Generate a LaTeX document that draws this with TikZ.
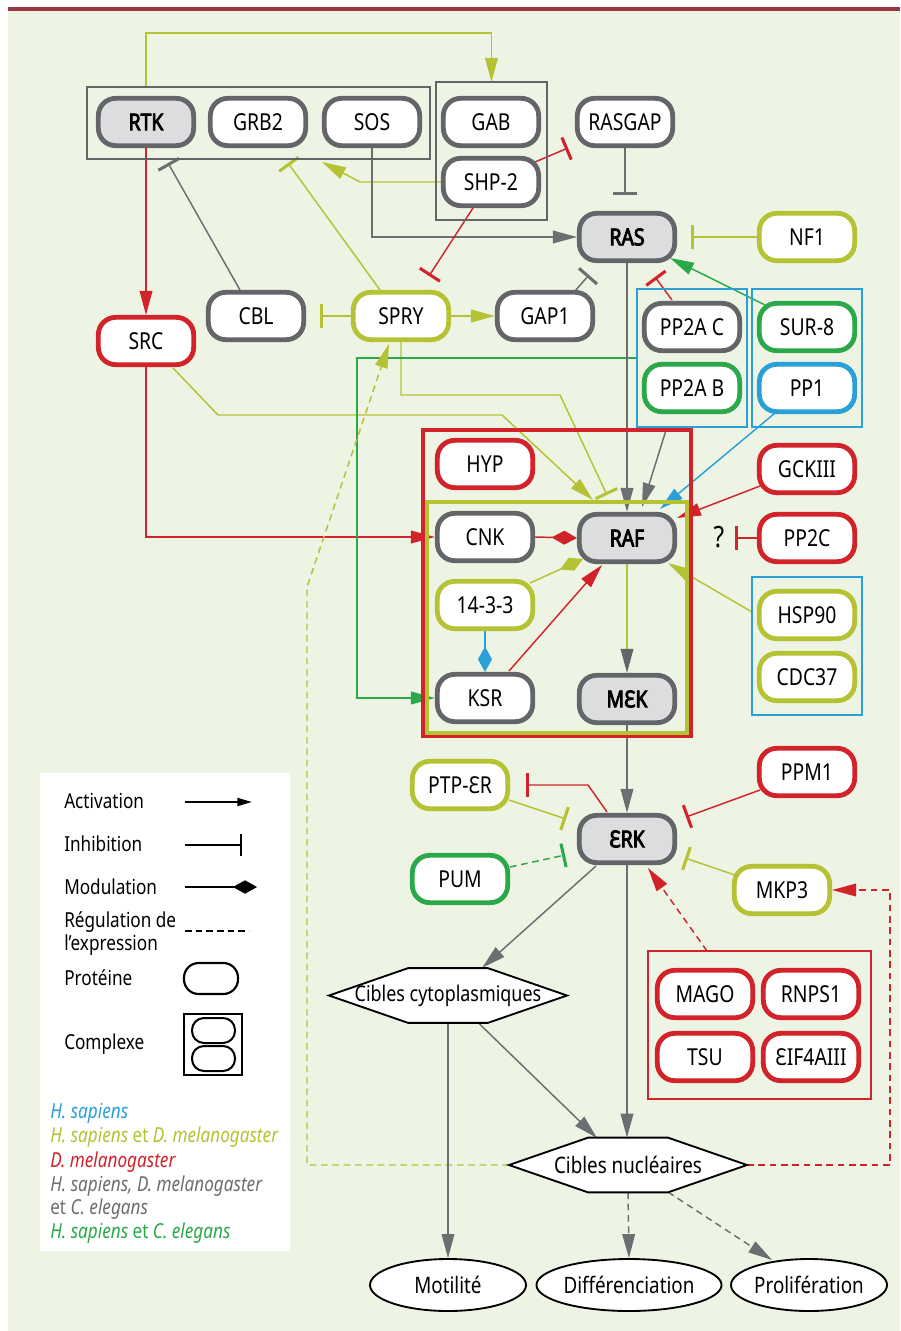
\documentclass[tikz,border=0pt]{standalone}
\usepackage{fontspec}
\setmainfont{Noto Sans}[FakeStretch=0.83]
\newfontfamily\fakeboldfam{Noto Sans}[FakeStretch=0.83,FakeBold=3.5]
\usetikzlibrary{arrows.meta,calc,shapes.geometric,fit}
\definecolor{olv}{RGB}{181,194,52}
\definecolor{rd}{RGB}{210,35,42}
\definecolor{grn}{RGB}{43,168,74}
\definecolor{blu}{RGB}{41,160,216}
\definecolor{gry}{RGB}{100,101,105}
\definecolor{lgry}{RGB}{109,110,113}
\definecolor{gfill}{RGB}{220,221,223}
\definecolor{bgc}{RGB}{238,244,228}
\definecolor{barc}{RGB}{150,55,65}
\newcommand\nodefont{\fontsize{17.5}{20}\selectfont}
\newcommand\legfont{\fontsize{15.5}{18}\selectfont}
\pgfdeclarelayer{back}
\pgfdeclarelayer{edges}
\pgfsetlayers{back,edges,main}
\tikzset{
  prot/.style={draw=gry, line width=3.6pt, fill=white, rounded corners=13pt,
    minimum width=71.5pt, minimum height=35.5pt, inner sep=0pt, font=\nodefont, text=black},
  protb/.style={prot, fill=gfill, font=\nodefont\fakeboldfam},
  cplx/.style={draw, line width=1.9pt, inner sep=0pt, outer sep=0pt},
  conn/.style={line width=1.1pt},
  act/.style={conn, -{Triangle[length=18pt,width=9.5pt]}},
  inh/.style={conn, -{Bar[width=18pt,line width=2.3pt]}},
  modu/.style={conn, -{Diamond[length=19pt,width=10.5pt]}},
  dsh/.style={dash pattern=on 5pt off 3.5pt},
  hexbox/.style={minimum width=178.5pt, minimum height=41pt, inner sep=0pt, outer sep=0pt},
  hexline/.style={draw=black, fill=white, line width=1.4pt, line join=miter},
  endp/.style={ellipse, draw=black, fill=white, line width=1.4pt, minimum width=117pt,
    minimum height=39pt, inner sep=0pt, font=\fontsize{17}{20}\selectfont},
  legtxt/.style={anchor=base west, font=\legfont, inner sep=0pt},
}
\begin{document}
\begin{tikzpicture}[x=0.75pt,y=-0.75pt]
\useasboundingbox (0,0) rectangle (900,1331);
\begin{pgfonlayer}{back}
\fill[white] (0,0) rectangle (900,1331);
\fill[bgc] (8,11) rectangle (900,1331);
\fill[barc] (8,7) rectangle (900,11);
\end{pgfonlayer}

% complexes
\node[cplx, draw=gry, fit={(87,87) (430,159)}] (cx1) {};
\node[cplx, draw=gry, fit={(436,82) (547,220)}] (cx2) {};
\node[cplx, draw=blu, fit={(637,289) (747,427)}] (cxPP2A) {};
\node[cplx, draw=blu, fit={(752,289) (862,427)}] (cxSUR) {};
\node[cplx, draw=rd, line width=2.3pt, fit={(423,430) (691,736)}] (bigred) {};
\node[cplx, draw=olv, line width=2.3pt, fit={(427,502) (687,733)}] (olvbox) {};
\node[cplx, draw=blu, fit={(752,577) (862,715)}] (cxHSP) {};
\node[cplx, draw=rd, fit={(648,951) (871,1099)}] (cxMAGO) {};

% proteins
\node[protb] (RTK) at (146,122) {RTK};
\node[prot] (GRB2) at (258,122) {GRB2};
\node[prot] (SOS) at (372,122) {SOS};
\node[prot] (GAB) at (491,122) {GAB};
\node[prot] (SHP2) at (491,182) {SHP-2};
\node[prot] (RASGAP) at (625,122) {RASGAP};
\node[protb] (RAS) at (627,237) {RAS};
\node[prot, draw=olv] (NF1) at (807,237) {NF1};
\node[prot, draw=rd] (SRC) at (146,341) {SRC};
\node[prot] (CBL) at (256,316) {CBL};
\node[prot, draw=olv] (SPRY) at (401,316) {SPRY};
\node[prot] (GAP1) at (545,316) {GAP1};
\node[prot] (PP2AC) at (692,327) {PP2A C};
\node[prot, draw=grn] (PP2AB) at (692,388) {PP2A B};
\node[prot, draw=grn] (SUR8) at (807,327) {SUR-8};
\node[prot, draw=blu] (PP1) at (807,388) {PP1};
\node[prot, draw=rd] (HYP) at (485,464) {HYP};
\node[prot] (CNK) at (485,537) {CNK};
\node[protb] (RAF) at (627,538) {RAF};
\node[prot, draw=olv] (P1433) at (485,605) {14-3-3};
\node[prot] (KSR) at (485,698) {KSR};
\node[protb] (MEK) at (627,699) {MƐK};
\node[prot, draw=rd] (GCK) at (807,469) {GCKIII};
\node[prot, draw=rd] (PP2C) at (807,538) {PP2C};
\node[prot, draw=olv] (HSP) at (807,615) {HSP90};
\node[prot, draw=olv] (CDC) at (807,677) {CDC37};
\node[prot, draw=olv] (PTP) at (460,785) {PTP-ƐR};
\node[prot, draw=grn] (PUM) at (460,879) {PUM};
\node[protb] (ERK) at (627,839) {ƐRK};
\node[prot, draw=rd] (PPM1) at (807,772) {PPM1};
\node[prot, draw=olv] (MKP3) at (782,890) {MKP3};
\node[prot, draw=rd] (MAGO) at (705,994) {MAGO};
\node[prot, draw=rd] (RNPS) at (811,994) {RNPS1};
\node[prot, draw=rd] (TSU) at (705,1057) {TSU};
\node[prot, draw=rd] (EIF) at (811,1057) {ƐIF4AIII};
\node[font=\fontsize{22}{24}\selectfont, inner sep=0pt] (Q) at (719,537) {?};

% targets
\node[hexbox] (CC) at (448,995.5) {};
\draw[hexline] (CC.west) -- ($(CC.north west)+(79,0)$) -- ($(CC.north east)+(-79,0)$) -- (CC.east)
  -- ($(CC.south east)+(-79,0)$) -- ($(CC.south west)+(79,0)$) -- cycle;
\node[font=\fontsize{16.2}{19}\selectfont] (CCt) at (CC) {Cibles cytoplasmiques};
\node[hexbox] (CN) at (628,1165) {};
\draw[hexline] (CN.west) -- ($(CN.north west)+(79,0)$) -- ($(CN.north east)+(-79,0)$) -- (CN.east)
  -- ($(CN.south east)+(-79,0)$) -- ($(CN.south west)+(79,0)$) -- cycle;
\node[font=\fontsize{17}{20}\selectfont] (CNt) at (CN) {Cibles nucléaires};
\node[endp] (MOT) at (448,1285) {Motilité};
\node[endp] (DIF) at (629,1285) {Différenciation};
\node[endp] (PRO) at (809,1285) {Prolifération};

% connectors
\begin{pgfonlayer}{edges}
\coordinate (t1) at (300,33);
\draw[act, olv] (RTK.center |- cx1.north) |- (t1) -| (cx2.north);
\draw[act, rd] (RTK.south) -- (SRC.north);
\draw[inh, lgry] ($(CBL)+(-16,-26)$) -- ($(RTK)+(22,41)$);
\draw[inh, olv] ($(SPRY)+(-21,-26)$) -- ($(GRB2)+(30,41)$);
\coordinate (c5) at (360,182);
\draw[act, olv] (SHP2.west) -- (c5) -- ($(GRB2)+(64,40)$);
\draw[act, lgry] (SOS.south) |- (RAS.west);
\draw[inh, rd] ($(SHP2)+(44,-20)$) -- ($(RASGAP)+(-57,26)$);
\draw[inh, lgry] (RASGAP.south) -- ($(RASGAP.south)+(0,47)$);
\draw[inh, rd] ($(SHP2)+(-18,26)$) -- ($(SPRY)+(28,-40)$);
\draw[inh, olv] (NF1.west) -- ($(RAS.east)+(14,0)$);
\draw[inh, lgry] ($(GAP1)+(30,-25)$) -- ($(RAS)+(-38,38)$);
\draw[inh, rd] ($(PP2AC)+(-20,-27)$) -- ($(RAS)+(28,40)$);
\draw[act, grn] ($(SUR8)+(-42,-22)$) -- ($(RAS)+(43,21)$);
\draw[inh, olv] (SPRY.west) -- ($(CBL.east)+(14,0)$);
\draw[act, olv] (SPRY.east) -- (GAP1.west);
\coordinate (s1) at (218,415);
\coordinate (s2) at (502,415);
\draw[act, olv] ($(SRC)+(27,27)$) -- (s1) -- (s2) -- ($(RAF)+(-34,-38)$);
\draw[act, rd] (SRC.south) |- (CNK.west);
\coordinate (p1) at (401,395);
\coordinate (p2) at (560,395);
\draw[inh, olv] (SPRY.south) -- (p1) -- (p2) -- ($(RAF)+(-20,-43)$);
\coordinate (g1) at (357,358);
\draw[act, grn] (cxPP2A.west) -- (g1) |- (KSR.west);
\coordinate (d1) at (307,1165);
\coordinate (d2) at (307,587);
\draw[act, olv, dsh] (CN.west) -- (d1) -- (d2) -- ($(SPRY)+(-12,28)$);
\draw[act, lgry] (RAS.south) -- (RAF.north);
\draw[act, lgry] ($(cxPP2A.south)+(-25,0)$) -- ($(RAF)+(15,-31)$);
\draw[act, blu] ($(PP1)+(-32,25)$) -- ($(RAF)+(33,-29)$);
\draw[act, rd] ($(GCK)+(-47,17)$) -- ($(RAF)+(50,-20)$);
\coordinate (qb) at (735,538);
\draw[inh, rd] (PP2C.west) -- (qb);
\draw[act, olv] ($(cxHSP.north west)+(0,35)$) -- ($(RAF)+(41,25)$);
\draw[modu, rd] (CNK.east) -- (RAF.west);
\draw[modu, olv] ($(P1433)+(45,-22)$) -- ($(RAF)+(-44,21)$);
\draw[modu, blu] (P1433.south) -- (KSR.north);
\draw[act, rd] ($(KSR)+(24,-27)$) -- ($(RAF)+(-25,27)$);
\draw[conn, olv, -{Triangle[length=18pt,width=9.5pt,color=gry]}] (RAF.south) -- (MEK.north);
\draw[act, lgry] (MEK.south) -- (ERK.north);
\coordinate (e1) at (588,785);
\draw[inh, rd] ($(ERK)+(-20,-27)$) -- (e1) -- ($(PTP.east)+(16,0)$);
\draw[inh, olv] ($(PTP)+(49,15)$) -- ($(ERK)+(-61,-20)$);
\draw[inh, grn, dsh] ($(PUM)+(50,-12)$) -- ($(ERK)+(-62,16)$);
\draw[inh, rd] ($(PPM1)+(-47,18)$) -- ($(ERK)+(59,-22)$);
\draw[inh, olv] ($(MKP3)+(-47,-15)$) -- ($(ERK)+(58,19)$);
\draw[act, rd, dsh] ($(cxMAGO.north west)+(59,0)$) -- ($(ERK)+(21,29)$);
\coordinate (r1) at (890,1165);
\draw[act, rd, dsh] (CN.east) -- (r1) |- (MKP3.east);
\draw[act, lgry] ($(ERK)+(-31,27)$) -- ($(CC)+(34,-27.5)$);
\draw[act, lgry] (ERK.south) -- (ERK.south |- CN.north);
\draw[act, lgry] ($(CC)+(30,27)$) -- ($(CN)+(-31,-27)$);
\draw[act, lgry] (CC.south) -- (MOT.north);
\draw[act, lgry, dsh] (CN.south) -- (DIF.north);
\draw[act, lgry, dsh] ($(CN)+(40,27)$) -- ($(PRO)+(-37,-25)$);
\end{pgfonlayer}

% legend
\node[fill=white, inner sep=0pt, outer sep=0pt, fit={(40,773) (290,1251)}] (LEG) {};
\node[legtxt] (L1) at (64,808) {Activation};
\node[legtxt] (L2) at (64,851) {Inhibition};
\node[legtxt] (L3) at (64,894) {Modulation};
\node[legtxt] (L4) at (64,927) {Régulation de};
\node[legtxt] (L5) at (64,950) {l’expression};
\node[legtxt] (L6) at (64,985) {Protéine};
\node[legtxt] (L7) at (64,1049) {Complexe};
\draw[line width=1.5pt, -{Triangle[length=11pt,width=6pt]}] (185,802) -- (252,802);
\draw[line width=1.5pt, -{Bar[width=16pt,line width=1.8pt]}] (185,845) -- (242,845);
\draw[line width=1.5pt, -{Diamond[length=18pt,width=10pt]}] (185,887) -- (257,887);
\draw[line width=1.5pt, dash pattern=on 5pt off 3pt] (185,931) -- (249,931);
\draw[line width=1.6pt, rounded corners=11pt] (184,963) rectangle (238,994);
\draw[line width=1.8pt] (184,1014) rectangle (242,1075);
\draw[line width=1.5pt, rounded corners=9pt] (192,1018) rectangle (235,1043);
\draw[line width=1.5pt, rounded corners=9pt] (192,1046) rectangle (235,1071);
\node[legtxt, text=blu] (S1) at (50,1118) {\itshape H. sapiens};
\node[legtxt, text=olv] (S2) at (50,1142) {\itshape H. sapiens \upshape et \itshape D. melanogaster};
\node[legtxt, text=rd] (S3) at (50,1167) {\itshape D. melanogaster};
\node[legtxt, text=lgry] (S4) at (50,1191) {\itshape H. sapiens, D. melanogaster};
\node[legtxt, text=lgry] (S5) at (50,1214) {et \itshape C. elegans};
\node[legtxt, text=grn] (S6) at (50,1238) {\itshape H. sapiens \upshape et \itshape C. elegans};
\end{tikzpicture}
\end{document}
